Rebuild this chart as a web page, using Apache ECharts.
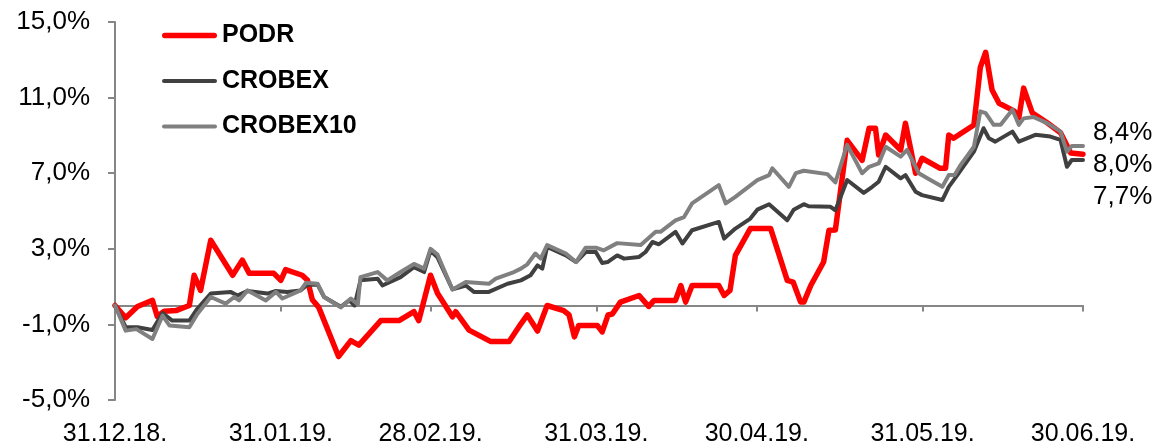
<!DOCTYPE html>
<html>
<head>
<meta charset="utf-8">
<script src="https://cdn.jsdelivr.net/npm/echarts@6/dist/echarts.min.js"></script>
<style>
html,body{margin:0;padding:0;background:#fff;}
#chart{width:1158px;height:444px;}
</style>
</head>
<body>
<div id="chart"></div>
<script>
// Days since 31.12.2018 and cumulative return (%)
const podrDays = [0,2.0,4.2,7.0,7.9,9.2,11.4,13.9,14.8,16.0,17.9,22.0,23.8,25.1,29.7,31.0,31.9,35.0,36.0,36.9,38.1,39.1,41.8,44.1,45.6,49.7,53.1,55.9,56.8,59.0,60.3,63.1,63.7,66.2,70.2,73.7,75.9,77.1,79.0,80.8,83.9,84.9,85.9,86.7,90.2,91.1,92.2,93.0,94.5,98.0,99.8,100.8,104.8,105.8,106.7,107.9,112.9,113.9,115.0,116.0,118.8,122.6,125.7,126.8,128.2,128.8,130.1,132.5,133.5,134.7,136.9,139.7,141.0,142.2,142.8,144.1,146.9,147.8,149.7,150.9,154.3,155.3,155.9,156.8,160.6,161.8,162.8,164.0,165.3,168.1,169.0,169.9,171.5,174.3,176.8,178.7,181];
const podrValues = [0,-0.65,-0.05,0.27,-0.58,-0.3,-0.27,0,1.6,0.8,3.45,1.6,2.4,1.7,1.7,1.33,1.9,1.6,1.33,0.3,-0.1,-0.8,-2.7,-1.86,-2.1,-0.8,-0.8,-0.33,-0.8,1.6,0.65,-0.6,-0.33,-1.3,-1.9,-1.9,-0.97,-0.5,-1.35,0,-0.27,-0.5,-1.66,-1.06,-1.06,-1.4,-0.5,-0.45,0.18,0.53,-0.05,0.27,0.27,1.06,0.18,1.06,1.06,0.53,0.8,2.65,4.07,4.07,1.33,1.24,0.18,0.18,1.06,2.3,3.98,4.0,8.74,7.68,9.38,9.38,7.96,9.02,8.23,9.64,7.0,7.79,7.26,7.26,9.02,8.85,9.55,12.6,13.4,11.4,10.7,10.3,9.93,11.5,10.2,9.67,9.14,8.07,8.0];

const crobexDays = [0,2.0,4.2,7.0,8.9,10.7,13.9,15.4,17.9,21.6,22.9,24.8,28.5,30.1,32.2,34.7,36.0,37.9,39.1,42.2,43.8,44.8,45.9,49.1,50.0,53.4,55.9,57.8,59.0,60.3,63.1,65.6,67.1,69.9,73.4,75.9,77.7,79.0,79.9,80.8,84.3,86.2,88.0,89.9,91.1,92.1,93.9,95.2,98.0,99.2,100.5,101.7,104.8,106.1,107.9,112.9,113.9,116.0,118.8,120.1,122.3,125.7,126.9,128.8,129.7,133.8,134.7,136.9,140.0,141.6,142.8,144.1,146.9,147.8,149.7,150.9,154.7,155.9,157.5,160.6,162.4,163.4,164.6,167.8,169.0,172.1,174.9,176.8,178.0,178.9,181];
const crobexValues = [0,-1.15,-1.15,-1.3,-0.4,-0.8,-0.8,-0.17,0.63,0.72,0.53,0.77,0.63,0.77,0.72,0.8,1.1,1.1,0.45,-0.07,0.27,0.0,1.33,1.42,1.06,1.5,2.03,1.77,2.9,2.55,0.85,1.06,0.72,0.72,1.15,1.33,1.6,2.12,1.95,3.1,2.65,2.3,2.83,2.83,2.25,2.3,2.65,2.48,2.57,2.83,3.36,3.24,3.9,3.28,3.98,4.42,3.54,4.07,4.6,5.07,5.36,4.51,5.07,5.36,5.25,5.22,5.04,6.64,5.96,6.28,6.55,7.34,6.73,6.9,6.02,5.84,5.58,6.28,6.9,8.14,9.38,8.85,8.67,9.2,8.67,9.03,8.94,8.76,7.34,7.7,7.7];

const crobex10Days = [0,2.0,4.0,7.0,8.9,10.2,13.9,15.4,17.9,20.7,22.3,23.2,24.8,28.2,30.1,31.3,34.7,35.7,37.9,39.1,42.2,44.1,45.4,45.9,49.1,50.9,53.4,55.9,57.8,59.0,60.3,63.1,65.6,69.9,71.2,74.6,75.9,77.1,78.6,79.6,80.8,84.3,86.2,88.0,89.9,91.4,93.9,98.3,101.1,102.0,104.8,106.4,107.9,112.9,114.2,116.0,120.1,122.3,122.9,126.0,127.3,128.8,133.2,134.7,136.9,139.7,141.0,142.8,144.1,146.9,148.1,150.3,151.9,154.7,155.9,157.0,158.1,160.6,161.8,162.8,164.3,165.6,167.8,169.0,169.9,171.8,174.3,176.8,178.0,178.9,181];
const crobex10Values = [0,-1.33,-1.25,-1.77,-0.53,-1.06,-1.15,-0.45,0.45,0.1,0.45,0.27,0.8,0.27,0.72,0.37,0.8,1.2,1.15,0.45,-0.1,0.37,0.05,1.5,1.77,1.33,1.77,2.2,1.95,3.0,2.7,0.85,1.24,1.15,1.42,1.77,1.95,2.18,2.75,2.48,3.2,2.75,2.3,3.06,3.06,2.92,3.3,3.2,3.9,3.9,4.5,4.68,5.4,6.37,5.4,5.75,6.63,6.9,7.26,6.28,7.0,7.13,6.95,6.51,8.5,7.0,7.34,7.52,8.4,7.88,8.23,7.0,6.73,6.28,6.9,6.9,7.43,8.4,10.27,10.18,9.56,9.56,10.36,9.56,9.9,9.97,9.65,9.2,8.14,8.44,8.44];

const tickDays = [0,31,59,90,120,151,181];
const tickLabels = ['31.12.18.','31.01.19.','28.02.19.','31.03.19.','30.04.19.','31.05.19.','30.06.19.'];
const seriesNames = ['PODR','CROBEX','CROBEX10'];

const FONT = '"Liberation Sans", Arial, sans-serif';
const pairs = (xs, ys) => xs.map((x, i) => [x, ys[i]]);
const pct = v => v.toFixed(1).replace('.', ',') + '%';

// legend icons: thick short lines with rounded caps
const iconThick = 'path://M2.75 0H52.25A2.75 2.75 0 0 1 52.25 5.5H2.75A2.75 2.75 0 0 1 2.75 0Z';
const iconThin = 'path://M2 0H53A2 2 0 0 1 53 4H2A2 2 0 0 1 2 0Z';

function lineSeries(name, data, color, width, dy) {
  return {
    name: name, type: 'line', xAxisIndex: 0, yAxisIndex: 0,
    data: data, symbol: 'none', showSymbol: false,
    lineStyle: {color: color, width: width, join: 'round', cap: 'round'},
    itemStyle: {color: color},
    endLabel: {
      show: true, distance: 10, offset: [0, dy],
      formatter: p => pct(p.value[1]),
      fontFamily: FONT, fontSize: 26, color: '#000'
    },
    emphasis: {disabled: true}
  };
}

const chart = echarts.init(document.getElementById('chart'), null, {renderer: 'canvas'});
chart.setOption({
  animation: false,
  backgroundColor: '#fff',
  textStyle: {fontFamily: FONT},
  grid: {left: 115, right: 75, top: 22, bottom: 44, containLabel: false, outerBoundsMode: 'none'},
  legend: {
    data: [
      {name: seriesNames[0], icon: iconThick, itemStyle: {color: '#ff0000', borderWidth: 0}},
      {name: seriesNames[1], icon: iconThin, itemStyle: {color: '#404040', borderWidth: 0}},
      {name: seriesNames[2], icon: iconThin, itemStyle: {color: '#808080', borderWidth: 0}}
    ],
    orient: 'vertical', left: 162, top: 23, padding: 0,
    itemWidth: 55, itemHeight: 25, itemGap: 20.5, symbolKeepAspect: true,
    textStyle: {fontFamily: FONT, fontSize: 25, fontWeight: 'bold', color: '#000', lineHeight: 25},
    selectedMode: false
  },
  xAxis: [
    {
      type: 'value', min: 0, max: 181, position: 'bottom',
      axisLine: {show: false, onZero: false},
      axisTick: {show: false}, splitLine: {show: false},
      axisLabel: {
        customValues: tickDays, fontFamily: FONT, fontSize: 25, color: '#000', margin: 22,
        formatter: v => tickLabels[tickDays.indexOf(v)] || ''
      }
    },
    {
      type: 'value', min: 0, max: 181, position: 'top',
      axisLine: {show: true, onZero: true, lineStyle: {color: '#868686', width: 2}},
      axisTick: {show: true, inside: true, length: 6, customValues: tickDays.slice(1), lineStyle: {color: '#868686', width: 2}},
      axisLabel: {show: false}, splitLine: {show: false}
    }
  ],
  yAxis: {
    type: 'value', min: -5, max: 15, interval: 4,
    axisLine: {show: true, onZero: false, lineStyle: {color: '#868686', width: 2}},
    axisTick: {show: true, length: 7, lineStyle: {color: '#868686', width: 2}},
    splitLine: {show: false},
    axisLabel: {fontFamily: FONT, fontSize: 26, color: '#000', margin: 25, formatter: v => pct(v)}
  },
  series: [
    lineSeries(seriesNames[0], pairs(podrDays, podrValues), '#ff0000', 5.5, 11),
    lineSeries(seriesNames[1], pairs(crobexDays, crobexValues), '#404040', 4, 37),
    lineSeries(seriesNames[2], pairs(crobex10Days, crobex10Values), '#808080', 4, -13)
  ]
});
</script>
</body>
</html>
